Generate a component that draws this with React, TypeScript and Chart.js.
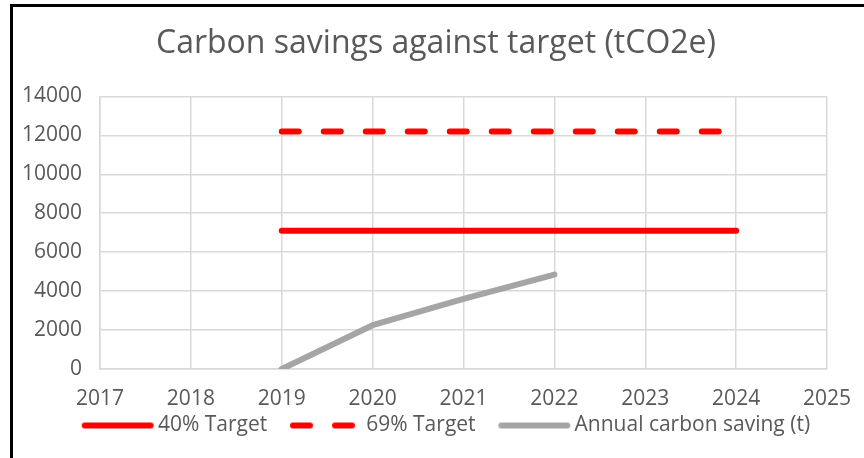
import React, { useEffect, useRef } from "react";
import { Chart, registerables } from "chart.js";

Chart.register(...registerables);

const titleText = "Carbon savings against target (tCO2e)";
const seriesNames = ["40% Target", "69% Target", "Annual carbon saving (t)"];

const target40Years = [2019, 2024];
const target40Values = [7100, 7100];

const target69Years = [2019, 2024];
const target69Values = [12200, 12200];

const savingYears = [2019, 2020, 2021, 2022];
const savingValues = [0, 2250, 3600, 4850];

const xMin = 2017;
const xMax = 2025;
const yMin = 0;
const yMax = 14000;
const yStep = 2000;

const toPoints = (xs: number[], ys: number[]) => xs.map((x, i) => ({ x, y: ys[i] }));

const FONT = "'Open Sans', 'Liberation Sans', sans-serif";
const TEXT = "#595959";
const GRID = "#d9d9d9";
const RED = "#ff0000";
const GREY = "#a5a5a5";
const DASH = [17, 25];

function makeSample(color: string, dash: number[]) {
  const c = document.createElement("canvas");
  c.width = 100;
  c.height = 10;
  const ctx = c.getContext("2d")!;
  const k = 27;
  ctx.strokeStyle = color;
  ctx.lineWidth = 6;
  ctx.lineCap = "round";
  ctx.setLineDash(dash);
  ctx.beginPath();
  ctx.moveTo(k + 3, 5);
  ctx.lineTo(k + 69, 5);
  ctx.stroke();
  return c;
}

export default function App() {
  const ref = useRef<HTMLCanvasElement | null>(null);

  useEffect(() => {
    if (!ref.current) return;
    const samples = [makeSample(RED, []), makeSample(RED, DASH), makeSample(GREY, [])];
    const defaultLabels = (Chart as any).defaults.plugins.legend.labels.generateLabels;
    const chart = new Chart(ref.current, {
      type: "line",
      data: {
        datasets: [
          {
            label: seriesNames[0],
            data: toPoints(target40Years, target40Values),
            borderColor: RED,
            backgroundColor: RED,
            borderWidth: 6,
            borderCapStyle: "round",
            pointRadius: 0,
          },
          {
            label: seriesNames[1],
            data: toPoints(target69Years, target69Values),
            borderColor: RED,
            backgroundColor: RED,
            borderWidth: 6,
            borderDash: DASH,
            borderCapStyle: "round",
            pointRadius: 0,
          },
          {
            label: seriesNames[2],
            data: toPoints(savingYears, savingValues),
            borderColor: GREY,
            backgroundColor: GREY,
            borderWidth: 6,
            borderCapStyle: "round",
            borderJoinStyle: "round",
            pointRadius: 0,
          },
        ],
      },
      options: {
        animation: false,
        responsive: false,
        maintainAspectRatio: false,
        layout: { padding: { left: 8, right: 0, top: 5, bottom: 12 } },
        scales: {
          x: {
            type: "linear",
            min: xMin,
            max: xMax,
            afterFit: (scale: any) => {
              scale.height = 43;
              scale.paddingLeft = 0;
              scale.paddingRight = 0;
            },
            ticks: {
              stepSize: 1,
              color: TEXT,
              font: { family: FONT, size: 21, lineHeight: 1.0 },
              padding: 20,
              maxRotation: 0,
              callback: (v: any) => String(v),
            },
            grid: { color: GRID, lineWidth: 1.5, drawTicks: false },
            border: { color: GRID, width: 1.5 },
          },
          y: {
            min: yMin,
            max: yMax,
            clip: false,
            afterFit: (scale: any) => {
              scale.width = 92;
            },
            ticks: {
              stepSize: yStep,
              color: TEXT,
              font: { family: FONT, size: 21 },
              padding: 18,
              callback: (v: any) => String(v),
            },
            grid: { color: GRID, lineWidth: 1.5, drawTicks: false },
            border: { color: GRID, width: 1.5 },
          },
          yRight: {
            position: "right",
            min: yMin,
            max: yMax,
            afterFit: (scale: any) => {
              scale.width = 37;
            },
            ticks: { display: false },
            grid: { display: false, drawTicks: false },
            border: { display: false },
          },
        },
        plugins: {
          title: {
            display: true,
            text: titleText,
            color: TEXT,
            font: { family: FONT, size: 32, weight: "normal", lineHeight: 1.2 },
            padding: { top: 20, bottom: 33 },
          },
          legend: {
            display: true,
            position: "bottom",
            align: "center",
            labels: {
              usePointStyle: true,
              pointStyleWidth: 85.5,
              color: TEXT,
              font: { family: FONT, size: 21 },
              padding: 3,
              generateLabels: (c: any) => {
                const items = defaultLabels(c);
                items.forEach((it: any, i: number) => {
                  it.pointStyle = samples[i];
                });
                return items;
              },
            },
          },
          tooltip: { enabled: false },
        },
      },
    } as any);
    return () => chart.destroy();
  }, []);

  return (
    <>
      <div
        style={{
          position: "fixed",
          left: 10,
          top: 4,
          width: 851,
          height: 451,
          borderTop: "3px solid #000",
          borderLeft: "3px solid #000",
          boxSizing: "content-box",
        }}
      />
      <canvas
        ref={ref}
        width={864}
        height={458}
        style={{ position: "fixed", left: 0, top: 0, width: 864, height: 458 }}
      />
    </>
  );
}
